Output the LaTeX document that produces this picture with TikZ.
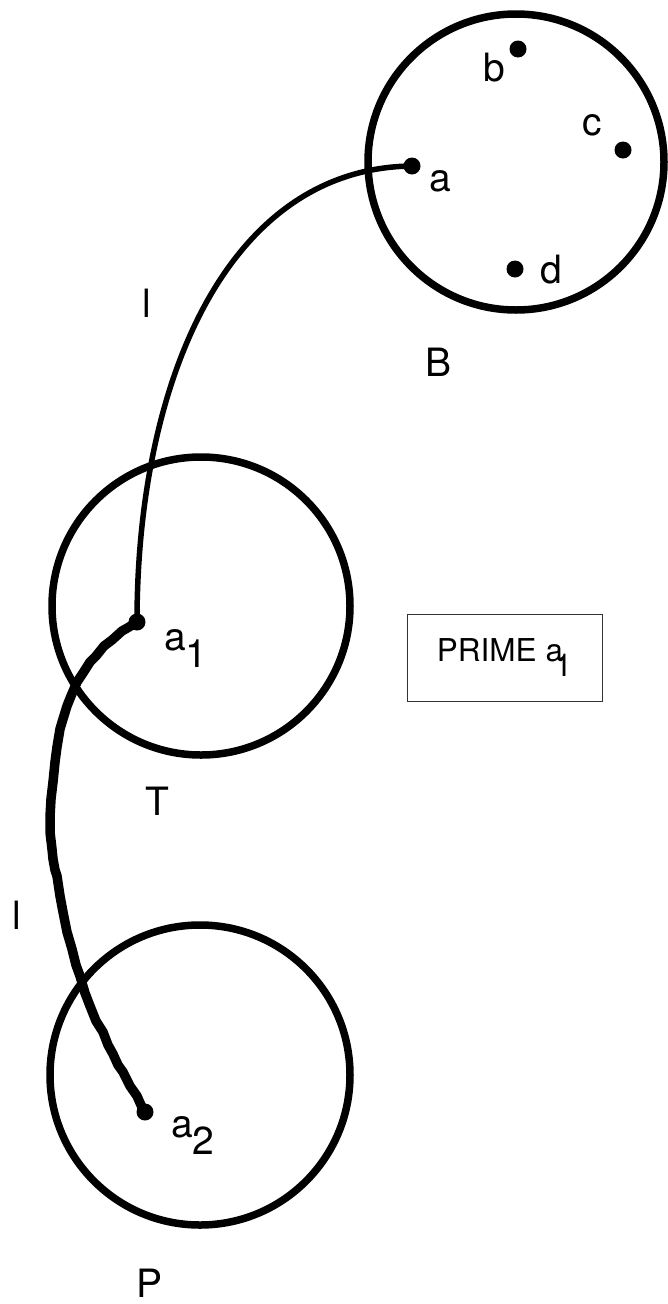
\documentclass[tikz,border=0pt]{standalone}
\usepackage{fontspec}
\setmainfont{TeX Gyre Heros}
\usepackage{tikz}
\newcommand{\lowidx}[1]{\raisebox{-0.46em}{#1}}

\begin{document}
\begin{tikzpicture}[x=1pt, y=-1pt,
    setcircle/.style={draw, line width=7.5pt, circle, minimum size=296pt, inner sep=0pt},
    elem/.style={fill, circle, minimum size=17pt, inner sep=0pt},
    lbl/.style={inner sep=0pt, font=\fontsize{39}{46}\selectfont},
    roughpath/.style={line width=9.5pt, line join=round, line cap=round}]
    \useasboundingbox (0,0) rectangle (667,1304);

    \node[setcircle] (setB) at (516,162) {};
    \node[setcircle, minimum size=298pt] (setT) at (201,606) {};
    \node[setcircle, minimum size=300pt] (setP) at (200,1075) {};

    \node[elem] (a) at (412,166) {};
    \node[elem] (b) at (518,49) {};
    \node[elem] (c) at (623,150) {};
    \node[elem] (d) at (515,269) {};
    \node[elem] (a1) at (137,622) {};
    \node[elem] (a2) at (145,1112) {};

    \node[lbl] (labb) at (494,68) {b};
    \node[lbl] (labc) at (592,125) {c};
    \node[lbl] (laba) at (440,181) {a};
    \node[lbl] (labd) at (551,270) {d};
    \node[lbl] (labB) at (439,362) {B};
    \node[lbl] (labT) at (157,801) {T};
    \node[lbl] (labP) at (150,1283) {P};
    \node[lbl] (labl) at (147,303) {l};
    \node[lbl] (labll) at (17,915) {l};
    \node[lbl, anchor=base west] (laba1) at (164,650) {a\lowidx{1}};
    \node[lbl, anchor=base west] (laba2) at (171,1137) {a\lowidx{2}};

    \node[draw=black!80, line width=1pt, minimum width=195pt, minimum height=87pt, inner sep=0pt,
        font=\fontsize{31.5}{36}\selectfont] (prime) at (504.5,657.5)
        {PRIME a\kern-0.27em\raisebox{-0.5em}{1}};

    \draw[line width=5.5pt] (a.center) .. controls (228,168) and (137,380) .. (a1.center);
    \draw[roughpath] (a1.center) -- (129,627) -- (122,631) -- (112,640) -- (104,646)
        -- (96,656) -- (90,662) -- (83,673) -- (77,682) -- (71,696) -- (67,706)
        -- (63,719) -- (60,729) -- (57,747) -- (55,762) -- (53,782) -- (51,799)
        -- (50,817) -- (50,832) -- (52,849) -- (53,859) -- (55,870) -- (57,876)
        -- (60,896) -- (63,912) -- (67,932) -- (72,949) -- (76,965) -- (80,976)
        -- (85,993) -- (90,1006) -- (96,1021) -- (103,1032) -- (108,1045)
        -- (113,1054) -- (118,1065) -- (123,1072) -- (130,1086) -- (137,1096)
        -- (141,1105) -- (a2.center);
\end{tikzpicture}
\end{document}
